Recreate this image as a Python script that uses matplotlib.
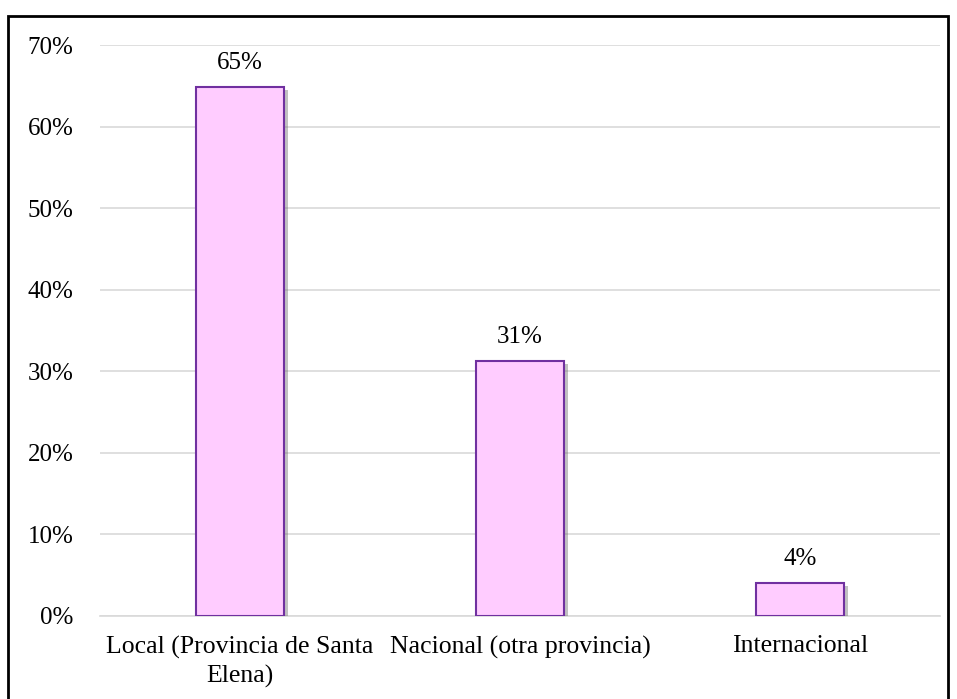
import matplotlib.pyplot as plt
from matplotlib.patches import Rectangle
from matplotlib.ticker import FuncFormatter
import matplotlib.patheffects as pe

categories = ['Local (Provincia de Santa\nElena)', 'Nacional (otra provincia)', 'Internacional']
values = [64.8, 31.2, 4.0]
labels = ['65%', '31%', '4%']

plt.rcParams['font.family'] = ['Liberation Serif', 'DejaVu Serif']

W, H = 957, 699
fig = plt.figure(figsize=(W / 100, H / 100), dpi=100)
ax = fig.add_axes([100 / W, 1 - 616 / H, 840 / W, (616 - 45) / H])

x = list(range(len(categories)))
bars = ax.bar(x, values, width=0.315, color='#ffccff', edgecolor='#7030a0',
              linewidth=1.5, zorder=3)
for b in bars:
    b.set_path_effects([pe.SimplePatchShadow(offset=(3, -2), shadow_rgbFace='#666666', alpha=0.4),
                        pe.Normal()])

for xi, v, lab in zip(x, values, labels):
    ax.text(xi, v + 1.6, lab, ha='center', va='bottom', fontsize=18)

ax.set_xlim(-0.5, 2.5)
ax.set_ylim(0, 70)
ax.set_yticks(range(0, 71, 10))
ax.yaxis.set_major_formatter(FuncFormatter(lambda v, p: f'{int(v)}%'))
ax.set_xticks(x)
ax.set_xticklabels(categories, fontsize=18.5, linespacing=1.35)
ax.tick_params(axis='y', labelsize=18, length=0, pad=19)
ax.tick_params(axis='x', length=0, pad=14)
ax.grid(axis='y', color='#d9d9d9', linewidth=1.2, zorder=0)
for s in ['top', 'right', 'left']:
    ax.spines[s].set_visible(False)
ax.spines['bottom'].set_color('#d9d9d9')
ax.spines['bottom'].set_linewidth(1.2)

fig.patches.append(Rectangle((8 / W, -0.01), 940 / W, 1 - 16 / H + 0.01,
                             transform=fig.transFigure, fill=False,
                             edgecolor='black', linewidth=2))

fig.savefig('out.png', dpi=100)
